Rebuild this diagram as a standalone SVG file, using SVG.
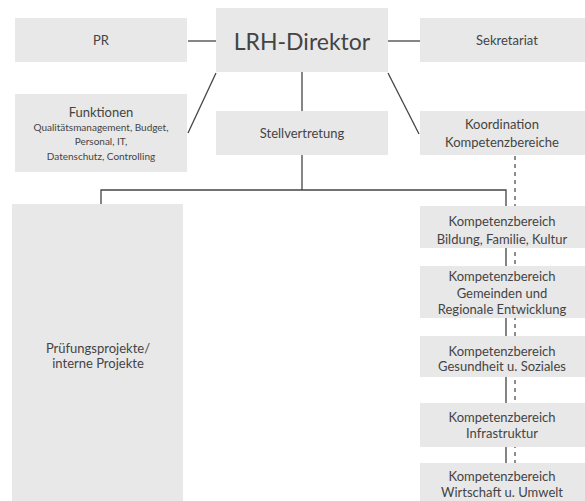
<svg xmlns="http://www.w3.org/2000/svg" width="585" height="501" viewBox="0 0 585 501">
<style>
.box{fill:#e8e8e8}
text{font-family:Lato,"Open Sans","Liberation Sans",sans-serif;fill:#444;text-anchor:middle}
.s{font-size:13px}
.xs{font-size:10px}
.ln{stroke:#444;stroke-width:1.3;fill:none}
.dash{stroke:#444;stroke-width:1.2;stroke-dasharray:4 4;fill:none}
</style>
<rect width="585" height="501" fill="#fff"/>
<g id="connectors">
<line class="ln" x1="188" y1="41" x2="216" y2="41"/>
<line class="ln" x1="388" y1="41" x2="420" y2="41"/>
<line class="ln" x1="188" y1="133" x2="216" y2="73"/>
<line class="ln" x1="302" y1="72" x2="302" y2="111"/>
<line class="ln" x1="388" y1="73" x2="419" y2="134"/>
<line class="ln" x1="302" y1="155" x2="302" y2="190"/>
<polyline class="ln" points="101,205 101,190 506,190 506,463"/>
<line class="dash" x1="515" y1="156" x2="515" y2="463"/>
</g>
<g id="pr"><rect class="box" x="15" y="18" width="172" height="44"/><text class="s" x="101" y="45">PR</text></g>
<g id="direktor"><rect class="box" x="216" y="8" width="172" height="64"/><text x="302" y="50" style="font-size:23px">LRH-Direktor</text></g>
<g id="sekretariat"><rect class="box" x="420" y="18" width="165" height="44"/><text class="s" x="507" y="45">Sekretariat</text></g>
<g id="funktionen"><rect class="box" x="15" y="94" width="172" height="78"/>
<text class="s" x="101" y="117">Funktionen</text>
<text class="xs" x="101" y="131">Qualitätsmanagement, Budget,</text>
<text class="xs" x="101" y="145">Personal, IT,</text>
<text class="xs" x="101" y="160">Datenschutz, Controlling</text></g>
<g id="stellvertretung"><rect class="box" x="216" y="111" width="172" height="44"/><text class="s" x="302" y="138">Stellvertretung</text></g>
<g id="koordination"><rect class="box" x="420" y="111" width="165" height="44"/>
<text class="s" x="502" y="129">Koordination</text><text class="s" x="502" y="147">Kompetenzbereiche</text></g>
<g id="pruefung"><rect class="box" x="12" y="204" width="171" height="297"/>
<text class="s" x="98" y="353">Prüfungsprojekte/</text><text class="s" x="98" y="368">interne Projekte</text></g>
<g id="kb1"><rect class="box" x="420" y="206" width="165" height="42"/>
<text class="s" x="502" y="226">Kompetenzbereich</text><text class="s" x="502" y="244">Bildung, Familie, Kultur</text></g>
<g id="kb2"><rect class="box" x="420" y="266" width="165" height="52"/>
<text class="s" x="502" y="281">Kompetenzbereich</text><text class="s" x="502" y="298">Gemeinden und</text><text class="s" x="502" y="314">Regionale Entwicklung</text></g>
<g id="kb3"><rect class="box" x="420" y="336" width="165" height="41"/>
<text class="s" x="502" y="356">Kompetenzbereich</text><text class="s" x="502" y="371">Gesundheit u. Soziales</text></g>
<g id="kb4"><rect class="box" x="420" y="403" width="165" height="44"/>
<text class="s" x="502" y="422">Kompetenzbereich</text><text class="s" x="502" y="438">Infrastruktur</text></g>
<g id="kb5"><rect class="box" x="420" y="463" width="165" height="38"/>
<text class="s" x="502" y="481">Kompetenzbereich</text><text class="s" x="502" y="497">Wirtschaft u. Umwelt</text></g>
</svg>
